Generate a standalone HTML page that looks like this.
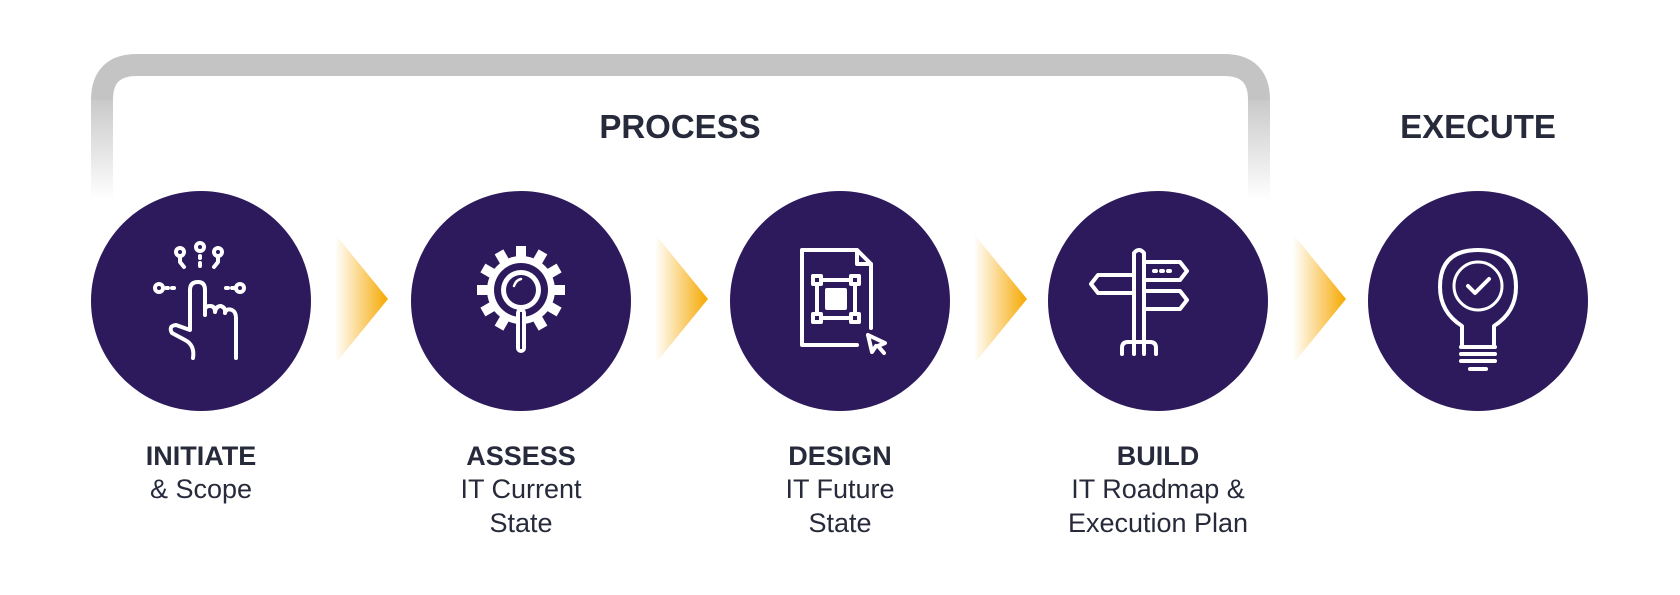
<!DOCTYPE html>
<html><head><meta charset="utf-8"><style>
html,body{margin:0;padding:0;background:#fff;width:1680px;height:595px;overflow:hidden}
svg text{font-family:"Liberation Sans",sans-serif;fill:#272a3a}
</style></head><body>
<svg width="1680" height="595" viewBox="0 0 1680 595" xmlns="http://www.w3.org/2000/svg">
<defs>
<linearGradient id="fadeL" gradientUnits="userSpaceOnUse" x1="0" y1="90" x2="0" y2="200">
<stop offset="0" stop-color="#c4c4c4"/><stop offset="1" stop-color="#c4c4c4" stop-opacity="0"/></linearGradient>
<linearGradient id="arr" x1="0" y1="0" x2="1" y2="0">
<stop offset="0" stop-color="#f6a800" stop-opacity="0"/><stop offset="1" stop-color="#f6a800"/></linearGradient>
</defs>
<!-- bracket -->
<path d="M102 100 Q102 65 137 65 H1224 Q1259 65 1259 100" fill="none" stroke="#c4c4c4" stroke-width="22"/>
<rect x="91" y="99" width="22" height="101" fill="url(#fadeL)"/>
<rect x="1248" y="99" width="22" height="101" fill="url(#fadeL)"/>
<text x="680" y="138" font-size="33" font-weight="bold" text-anchor="middle">PROCESS</text>
<text x="1478" y="138" font-size="33" font-weight="bold" text-anchor="middle">EXECUTE</text>
<!-- arrows -->
<g fill="url(#arr)">
<polygon points="335,234 388,299 335,364"/>
<polygon points="655,234 708,299 655,364"/>
<polygon points="974,234 1027,299 974,364"/>
<polygon points="1293,234 1346,299 1293,364"/>
</g>
<!-- circles -->
<g fill="#2d1a5c">
<circle cx="201" cy="301" r="110"/><circle cx="521" cy="301" r="110"/>
<circle cx="840" cy="301" r="110"/><circle cx="1158" cy="301" r="110"/>
<circle cx="1478" cy="301" r="110"/>
</g>
<!-- gear teeth -->
<g fill="#fff" transform="translate(521 290)">
<circle r="34"/>
<g id="t"><rect x="-5" y="-44" width="10" height="14"/></g>
<use href="#t" transform="rotate(30)"/><use href="#t" transform="rotate(60)"/><use href="#t" transform="rotate(90)"/>
<use href="#t" transform="rotate(120)"/><use href="#t" transform="rotate(150)"/><use href="#t" transform="rotate(180)"/>
<use href="#t" transform="rotate(210)"/><use href="#t" transform="rotate(240)"/><use href="#t" transform="rotate(270)"/>
<use href="#t" transform="rotate(300)"/><use href="#t" transform="rotate(330)"/>
<circle r="27" fill="#2d1a5c"/>
<circle r="20" fill="#fff"/>
<circle r="15" fill="#2d1a5c"/>
<rect x="-5" y="18" width="10" height="45" rx="5"/>
<rect x="-1" y="22" width="2" height="37" fill="#2d1a5c"/>
</g>
<g fill="none" stroke="#fff" stroke-width="4" stroke-linecap="round" stroke-linejoin="round">
<path d="M514 286 Q516 280 521 279" stroke-width="2.5"/>
<!-- hand -->
<path d="M193 358 Q195 345 185 340 L172 333 Q168 326 176 325 L190 330 V290 Q190 282 198 282 Q205 282 205 290 V315 M205 310 Q205 306 210 306 Q215 306 215 312 Q216 306 221 306 Q226 308 225 313 Q226 308 232 310 Q236 312 236 318 V358"/>
<circle cx="180" cy="252" r="4"/><circle cx="200" cy="247" r="4"/><circle cx="218" cy="252" r="4"/>
<circle cx="159" cy="288" r="4"/><circle cx="240" cy="288" r="4"/>
<path d="M180 256 V262 L184 267 M218 256 V262 L214 267 M200 256 V258 M200 263 V266 M166 288 H168 M172 288 H174 M226 288 H228 M232 288 H234"/>
<!-- document -->
<path d="M802 250 H857 L871 264 V328 M857 250 V264 H871 M802 250 V345 H857"/>
<rect x="817" y="280" width="38" height="38"/>
<rect x="827" y="290" width="18" height="18" fill="#fff"/>
<rect x="813" y="276" width="8" height="8" fill="#2d1a5c"/><rect x="851" y="276" width="8" height="8" fill="#2d1a5c"/>
<rect x="813" y="314" width="8" height="8" fill="#2d1a5c"/><rect x="851" y="314" width="8" height="8" fill="#2d1a5c"/>
<path d="M868 335 L885 343 L878 346 L884 353 M868 335 L872 352 L876 346"/>
<!-- signpost -->
<path d="M1134 354 V253 Q1139 247 1144 253 V354 M1122 354 V348 Q1122 342 1128 342 H1150 Q1156 342 1156 348 V354"/>
<path d="M1144 262 H1180 L1187 271 L1180 280 H1144 M1134 275 H1098 L1091 284 L1098 293 H1134 M1144 291 H1180 L1187 300 L1180 309 H1144"/>
<path d="M1154 271 H1156 M1161 271 H1163 M1168 271 H1170"/>
<!-- bulb -->
<path d="M1462 347 V326 Q1440 312 1440 287 Q1440 250 1478 250 Q1516 250 1516 287 Q1516 312 1494 326 V347"/>
<circle cx="1478" cy="286" r="24" stroke-width="3"/>
<path d="M1468 286 L1475 293 L1489 279"/>
<path d="M1461 347 H1495 M1461 354 H1495 M1461 361 H1495 M1470 369 H1486"/>
</g>
<!-- labels -->
<g font-size="27" text-anchor="middle">
<text x="201" y="465" font-weight="bold">INITIATE</text>
<text x="201" y="498">&amp; Scope</text>
<text x="521" y="465" font-weight="bold">ASSESS</text>
<text x="521" y="498">IT Current</text>
<text x="521" y="532">State</text>
<text x="840" y="465" font-weight="bold">DESIGN</text>
<text x="840" y="498">IT Future</text>
<text x="840" y="532">State</text>
<text x="1158" y="465" font-weight="bold">BUILD</text>
<text x="1158" y="498">IT Roadmap &amp;</text>
<text x="1158" y="532">Execution Plan</text>
</g>
</svg>
</body></html>
